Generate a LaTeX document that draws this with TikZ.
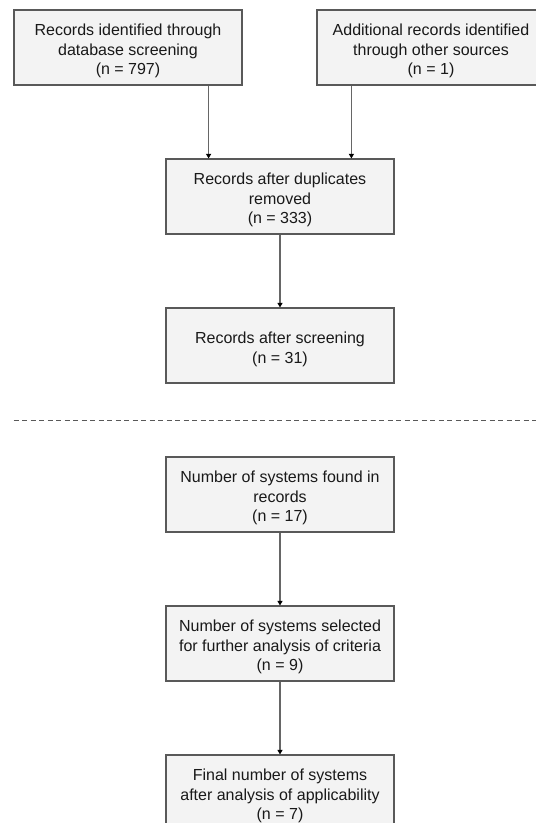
\documentclass[tikz,border=0pt]{standalone}
\usepackage{fontspec}
\setmainfont{Liberation Sans}
\usetikzlibrary{arrows.meta}
\definecolor{boxfill}{HTML}{F3F3F3}
\definecolor{boxline}{HTML}{595959}
\definecolor{linkline}{HTML}{666666}
% taller first line lowers the text block a little inside each box
\newcommand{\tallstrut}{\rule{0pt}{19pt}}
\tikzset{
  stagebox/.style={draw=boxline, line width=1.2pt, fill=boxfill,
    minimum width=228pt, minimum height=75pt, inner sep=0pt,
    align=center, text=black!90,
    font=\fontsize{16pt}{19.6pt}\selectfont},
  link/.style={draw=linkline, line width=1.2pt,
    -{Triangle[length=4.5pt,width=5pt,fill=black,color=black]}},
  divider/.style={draw=boxline, line width=1pt, dash pattern=on 5pt off 3.5pt}
}
\begin{document}
\begin{tikzpicture}[x=1pt,y=1pt]
  \useasboundingbox (0,0) rectangle (536,-823);
  \clip (0,0) rectangle (536,-823);

  % identification
  \node[stagebox] (db)    at (128,-47.5)  {\tallstrut Records identified through\\database screening\\(n = 797)};
  \node[stagebox] (other) at (431,-47.5)  {\tallstrut Additional records identified\\through other sources\\(n = 1)};
  \node[stagebox] (dedup) at (280,-196.5) {\tallstrut Records after duplicates\\removed\\(n = 333)};
  \node[stagebox] (screen) at (280,-345.5) {\tallstrut Records after screening\\(n = 31)};

  % separator between the two phases
  \coordinate (sepL) at (13.7,-420.5);
  \coordinate (sepR) at (536,-420.5);
  \draw[divider] (sepL) -- (sepR);

  % systems
  \node[stagebox] (found)    at (280,-494.5) {\tallstrut Number of systems found in\\records\\(n = 17)};
  \node[stagebox] (selected) at (280,-643.5) {\tallstrut Number of systems selected\\for further analysis of criteria\\(n = 9)};
  \node[stagebox] (final)    at (280,-792.5) {\tallstrut Final number of systems\\after analysis of applicability\\(n = 7)};

  % connectors
  \draw[link] ([xshift=-34pt]db.south east) -- ([xshift=-34pt]db.south east |- dedup.north);
  \draw[link] ([xshift=35pt]other.south west) -- ([xshift=35pt]other.south west |- dedup.north);
  \draw[link] (dedup) -- (screen);
  \draw[link] (found) -- (selected);
  \draw[link] (selected) -- (final);
\end{tikzpicture}
\end{document}
